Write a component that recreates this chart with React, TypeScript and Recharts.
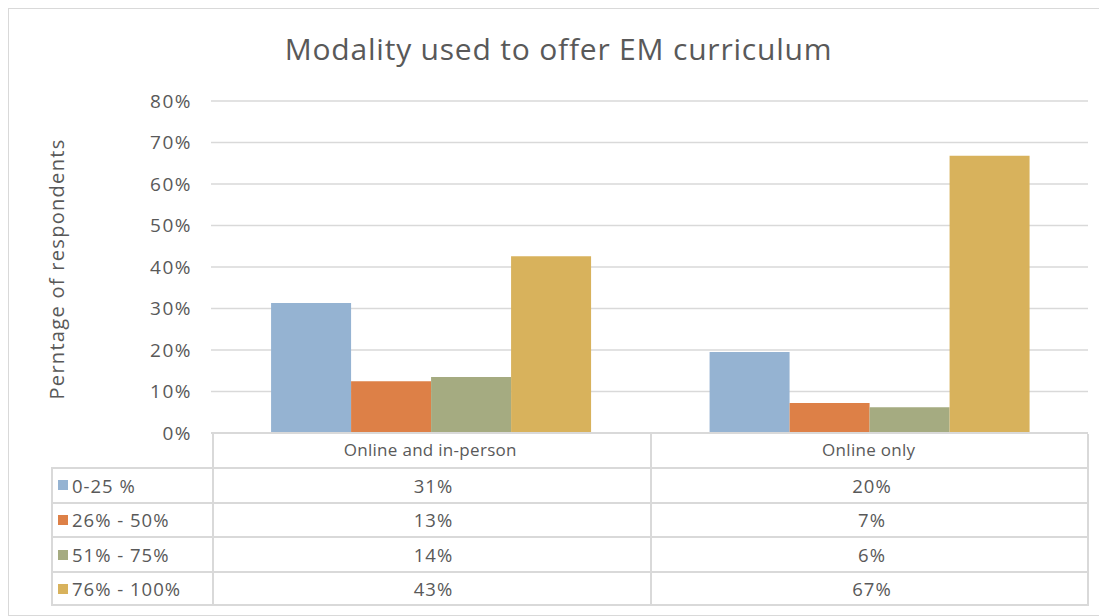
import React from "react";
import { BarChart, Bar, XAxis, YAxis, CartesianGrid } from "recharts";

const categories = ["Online and in-person", "Online only"];
const seriesNames = ["0-25 %", "26% - 50%", "51% - 75%", "76% - 100%"];
const share0to25 = [31.3, 19.5];
const share26to50 = [12.5, 7.2];
const share51to75 = [13.5, 6.2];
const share76to100 = [42.6, 66.8];
const tableValues = [
  ["31%", "20%"],
  ["13%", "7%"],
  ["14%", "6%"],
  ["43%", "67%"],
];
const yTicks = [0, 10, 20, 30, 40, 50, 60, 70, 80];

const colors = ["#95b3d2", "#dd8047", "#a5ab81", "#d8b25c"];

const data = categories.map((c, i) => ({
  category: c,
  s0: share0to25[i],
  s1: share26to50[i],
  s2: share51to75[i],
  s3: share76to100[i],
}));

const FONT = "'Open Sans', 'DejaVu Sans', sans-serif";
const TEXT = "#595959";
const LINE = "#d9d9d9";

// table geometry (inside the framed box)
const plotLeft = 203;
const plotRight = 1080;
const colSplit = 642;
const tableLeft = 42;
const headerTop = 425;
const rowTops = [458, 492.5, 527, 562, 597];

export default function App() {
  return (
    <div
      style={{
        position: "relative",
        width: 1099,
        height: 608,
        border: `1px solid ${LINE}`,
        boxSizing: "border-box",
        background: "#fff",
        fontFamily: FONT,
        color: TEXT,
      }}
    >
      <div
        style={{
          position: "absolute",
          top: 19,
          left: 0,
          width: 1099,
          textAlign: "center",
          fontSize: 30,
          letterSpacing: 0.8,
          color: TEXT,
        }}
      >
        Modality used to offer EM curriculum
      </div>
      <div
        style={{
          position: "absolute",
          left: 47,
          top: 260,
          transform: "translate(-50%, -50%) rotate(-90deg)",
          whiteSpace: "nowrap",
          fontSize: 20,
          letterSpacing: 1.3,
        }}
      >
        Perntage of respondents
      </div>
      <div style={{ position: "absolute", left: -1, top: -1 }}>
        <BarChart
          width={1099}
          height={470}
          data={data}
          margin={{ top: 93, right: 19, left: 143, bottom: 15 }}
          barCategoryGap="13.7%"
          barGap={0}
        >
          <CartesianGrid stroke={LINE} strokeWidth={1.5} vertical={false} />
          <XAxis
            dataKey="category"
            height={30}
            tickLine={false}
            axisLine={{ stroke: LINE, strokeWidth: 2 }}
            tickSize={0}
            tickMargin={11}
            tick={{ fill: TEXT, fontSize: 17, fontFamily: FONT, letterSpacing: 0.3 }}
            interval={0}
          />
          <YAxis
            width={60}
            domain={[0, 80]}
            ticks={yTicks}
            tickFormatter={(v) => `${v}%`}
            tickLine={false}
            axisLine={false}
            tickSize={0}
            tickMargin={19}
            tick={{ fill: TEXT, fontSize: 19, fontFamily: FONT, letterSpacing: 1.5 }}
          />
          {["s0", "s1", "s2", "s3"].map((k, i) => (
            <Bar
              key={k}
              dataKey={k}
              name={seriesNames[i]}
              fill={colors[i]}
              isAnimationActive={false}
            />
          ))}
        </BarChart>
      </div>
      {/* data table grid */}
      <div
        style={{
          position: "absolute",
          left: plotLeft,
          top: headerTop,
          width: plotRight - plotLeft,
          height: rowTops[0] - headerTop,
          borderLeft: `2px solid ${LINE}`,
          borderRight: `2px solid ${LINE}`,
          boxSizing: "border-box",
        }}
      />
      <div
        style={{
          position: "absolute",
          left: colSplit - 1,
          top: headerTop,
          width: 2,
          height: rowTops[4] - headerTop,
          background: LINE,
        }}
      />
      {seriesNames.map((name, r) => (
        <div
          key={name}
          style={{
            position: "absolute",
            left: tableLeft,
            top: rowTops[r],
            width: plotRight - tableLeft,
            height: rowTops[r + 1] - rowTops[r],
            border: `2px solid ${LINE}`,
            borderBottom: r === 3 ? `2px solid ${LINE}` : "none",
            boxSizing: "border-box",
            fontSize: 18.5,
            letterSpacing: 1,
          }}
        >
          <div
            style={{
              position: "absolute",
              left: plotLeft - tableLeft - 2,
              top: 0,
              width: 2,
              height: "100%",
              background: LINE,
            }}
          />
          <div
            style={{
              position: "absolute",
              left: 5,
              top: 0,
              height: "100%",
              display: "flex",
              alignItems: "center",
            }}
          >
            <span
              style={{
                display: "inline-block",
                width: 10,
                height: 10,
                background: colors[r],
                marginRight: 4,
              }}
            />
            {name}
          </div>
          {tableValues[r].map((v, c) => (
            <div
              key={c}
              style={{
                position: "absolute",
                left: (c === 0 ? plotLeft : colSplit) - tableLeft,
                width: c === 0 ? colSplit - plotLeft : plotRight - colSplit,
                top: 0,
                height: "100%",
                display: "flex",
                alignItems: "center",
                justifyContent: "center",
              }}
            >
              {v}
            </div>
          ))}
        </div>
      ))}
    </div>
  );
}
